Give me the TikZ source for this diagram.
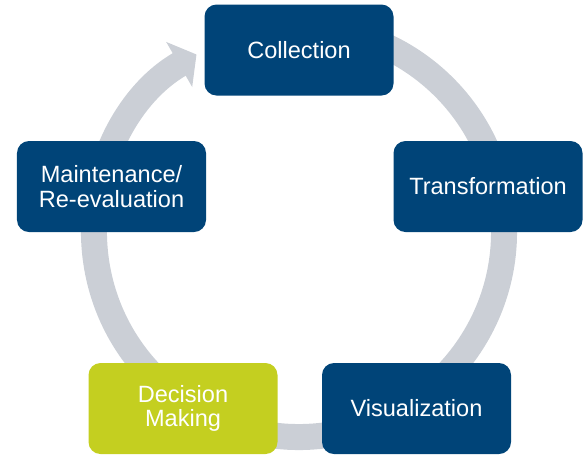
\documentclass[tikz,border=0pt]{standalone}
\usepackage{fontspec}
\setmainfont{Liberation Sans}
\usetikzlibrary{arrows.meta}

\definecolor{cblue}{RGB}{0,68,120}
\definecolor{cgreen}{RGB}{196,207,32}
\definecolor{cring}{RGB}{203,207,214}

\tikzset{
  box/.style={rectangle, rounded corners=0.24cm, fill=cblue, text=white,
    minimum width=3.78cm, minimum height=1.82cm, align=center,
    font=\fontsize{13.4}{14}\selectfont},
  ring/.style={draw=cring, line width=0.52cm,
    -{Triangle[length=0.4cm, width=1.02cm]}}
}

\begin{document}
\begin{tikzpicture}
  \useasboundingbox (0,0) rectangle (11.66,-9.08);
  \coordinate (o) at (5.98,-4.64);
  \draw[ring] ([shift={(100:4.1)}]o) arc[start angle=100, end angle=-240, radius=4.1];
    \node[box] (c) at (5.98,-1.0) {Collection};
    \node[box] (t) at (9.76,-3.73) {Transformation};
    \node[box] (v) at (8.33,-8.17) {Visualization};
    \node[box, fill=cgreen] (d) at (3.66,-8.17) {Decision\\Making};
    \node[box] (m) at (2.23,-3.73) {Maintenance/\\Re-evaluation};
\end{tikzpicture}
\end{document}
